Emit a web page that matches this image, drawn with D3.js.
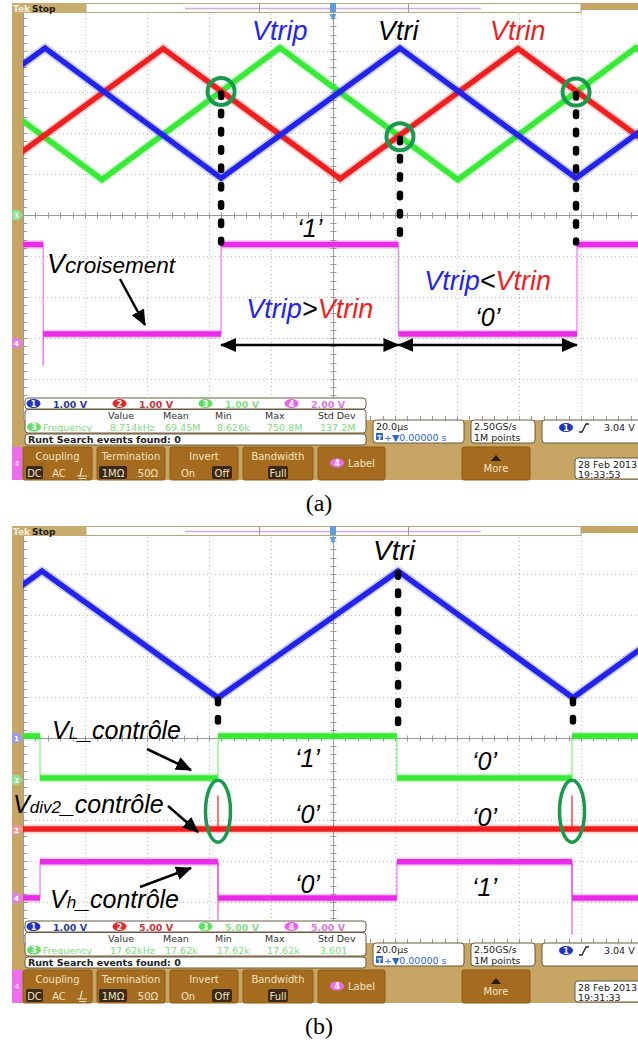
<!DOCTYPE html>
<html>
<head>
<meta charset="utf-8">
<script src="https://cdn.jsdelivr.net/npm/d3@7"></script>
<style>
  body { margin: 0; background: #fff; }
  svg { display: block; }
  .ann { font-family: "Liberation Sans", Arial, sans-serif; font-style: italic; }
  .ui { font-family: "DejaVu Sans", sans-serif; }
</style>
</head>
<body>
<svg width="638" height="1045"></svg>
<script>
// time in µs from the trigger point (20 µs/div), levels in volts

// (a) carriers
var vtripT = [-150.3, -92.9, -36.1, 21.6, 78.4, 135.8];
var vtripV = [0.90, 4.07, 0.90, 4.07, 0.90, 4.07];
var vtrinT = [-112.2, -54.8, 2.3, 59.7, 117.1];
var vtrinV = [0.88, 4.06, 0.88, 4.06, 0.88];
var vtriAT = [-131.9, -74.5, -17.1, 40.3, 97.7, 155.1];
var vtriAV = [4.08, 0.86, 4.08, 0.86, 4.08, 0.86];
// (a) Vcroisement
var croisEdges = [-93.5, -36.1, 21.1, 78.7];
var croisLevels = [4.8, 0.44, 4.8, 0.44, 4.8];
var croisSpikeT = [-93.5];
var croisSpikeV = [-1.1];
var markA = [-36.1, 21.6, 78.4];

// (b) carrier and control signals
var vtriBT = [-150.6, -93.9, -37.1, 21.0, 77.4, 134.0];
var vtriBV = [0.98, 4.07, 0.98, 4.07, 0.98, 4.07];
var ctrlEdges = [-94.5, -37.1, 20.6, 77.1];
var vlLevels = [5.35, 0.22, 5.35, 0.22, 5.35];
var vhLevels = [0.0, 4.4, 0.0, 4.4, 0.0];
var div2Level = 0.1;
var div2GlitchT = [-37.1, 77.1];
var div2GlitchV = [4.2, 4.2];
var vhSpikeV = [-2.7, -4.5];
var markB = [-37.1, 21.0, 77.4];

// readouts
var voltsA = ["1.00 V", "1.00 V", "1.00 V", "2.00 V"];
var voltsB = ["1.00 V", "5.00 V", "5.00 V", "5.00 V"];
var measHead = ["Value", "Mean", "Min", "Max", "Std Dev"];
var measA = ["8.714kHz", "69.45M", "8.626k", "750.8M", "137.2M"];
var measB = ["17.62kHz", "17.62k", "17.62k", "17.62k", "3.601"];
var dateA = ["28 Feb 2013", "19:33:53"];
var dateB = ["28 Feb 2013", "19:31:33"];

var blue = "#2323ee", red = "#f01e1e", green = "#36ea36", pink = "#ea2cea";
var ring = "#179a4c", tan = "#c6a565", btn = "#a56c20", btnTxt = "#f4e3c0";
var chanFill = ["#1f33c4", "#e22a2a", "#62dc62", "#ec62ec"];
var chanTxt = ["#2c3c9c", "#cc3333", "#86e086", "#dd77dd"];
var markFill = ["#9b9be6", "#ef9a9a", "#8fe08f", "#e57fe5"];

var svg = d3.select("svg");
var x = d3.scaleLinear().domain([-100, 100]).range([23, 643]);
var y = d3.scaleLinear().domain([-5, 5]).range([420, 10]); // divisions

var defs = svg.append("defs");
defs.append("clipPath").attr("id", "plotClip")
  .append("rect").attr("x", 23).attr("y", 13).attr("width", 615).attr("height", 407);
defs.append("marker").attr("id", "ah").attr("viewBox", "0 0 16 14")
  .attr("refX", 15).attr("refY", 7).attr("markerWidth", 16).attr("markerHeight", 14)
  .attr("markerUnits", "userSpaceOnUse").attr("orient", "auto-start-reverse")
  .append("path").attr("d", "M0,0L16,7L0,14Z").attr("fill", "#000");

function uiText(g, x0, y0, s, size, col, anchor) {
  return g.append("text").attr("class", "ui").attr("x", x0).attr("y", y0)
    .attr("font-size", size).attr("fill", col).attr("text-anchor", anchor || "start").text(s);
}

function badge(g, cx, cy, n, fill) {
  g.append("ellipse").attr("cx", cx).attr("cy", cy).attr("rx", 7).attr("ry", 4.6).attr("fill", fill);
  uiText(g, cx, cy + 3, n, 8, "#fff", "middle").attr("font-weight", "bold");
}

function box(g, x0, y0, w, h, fill) {
  return g.append("rect").attr("x", x0).attr("y", y0).attr("width", w).attr("height", h)
    .attr("rx", 3).attr("fill", fill || "#fff").attr("stroke", "#6b5a40").attr("stroke-width", 1);
}

function graticule(g) {
  g.append("rect").attr("x", 23).attr("y", 10).attr("width", 615).attr("height", 410).attr("fill", "#fff");
  var gr = g.append("g").attr("stroke", "#bcbcbc").attr("stroke-width", 1);
  gr.selectAll(null).data(d3.range(-80, 81, 20).filter(function(d) { return d; })).join("line")
    .attr("x1", function(d) { return Math.round(x(d)) + 0.5; })
    .attr("x2", function(d) { return Math.round(x(d)) + 0.5; })
    .attr("y1", 10).attr("y2", 420).attr("stroke-dasharray", "1,3");
  gr.selectAll(null).data([-4, -3, -2, -1, 1, 2, 3, 4]).join("line")
    .attr("x1", 23).attr("x2", 638)
    .attr("y1", function(d) { return Math.round(y(d)) + 0.5; })
    .attr("y2", function(d) { return Math.round(y(d)) + 0.5; })
    .attr("stroke-dasharray", "1,3");
  var cx = Math.round(x(0)) + 0.5, cy = Math.round(y(0)) + 0.5;
  var c = g.append("g").attr("stroke", "#9a9a9a").attr("stroke-width", 1);
  c.append("line").attr("x1", 23).attr("x2", 638).attr("y1", cy).attr("y2", cy);
  c.append("line").attr("x1", cx).attr("x2", cx).attr("y1", 10).attr("y2", 420);
  c.append("line").attr("x1", 23.5).attr("x2", 23.5).attr("y1", 10).attr("y2", 420);
  var tt = d3.range(-100, 100.1, 4), td = d3.range(-5, 5.01, 0.2);
  c.selectAll(null).data(tt).join("line")
    .attr("x1", function(d) { return Math.round(x(d)) + 0.5; })
    .attr("x2", function(d) { return Math.round(x(d)) + 0.5; })
    .attr("y1", cy - 3).attr("y2", cy + 3);
  c.selectAll(null).data(tt).join("line")
    .attr("x1", function(d) { return Math.round(x(d)) + 0.5; })
    .attr("x2", function(d) { return Math.round(x(d)) + 0.5; })
    .attr("y1", 416).attr("y2", 420);
  c.selectAll(null).data(td).join("line")
    .attr("y1", function(d) { return Math.round(y(d)) + 0.5; })
    .attr("y2", function(d) { return Math.round(y(d)) + 0.5; })
    .attr("x1", cx - 3).attr("x2", cx + 3);
  c.selectAll(null).data(td).join("line")
    .attr("y1", function(d) { return Math.round(y(d)) + 0.5; })
    .attr("y2", function(d) { return Math.round(y(d)) + 0.5; })
    .attr("x1", 23).attr("x2", 27);
}

// one oscilloscope screen; returns its layers
function scope(oy, P) {
  var g = svg.append("g").attr("transform", "translate(0," + oy + ")");
  var yc = function(ch, v) { return y(v / P.ch[ch].vdiv + P.ch[ch].off); };

  g.append("rect").attr("x", 12).attr("y", 3).attr("width", 626).attr("height", 477).attr("fill", tan);
  graticule(g);
  var layer = g.append("g").attr("clip-path", "url(#plotClip)");

  // channel markers on the left
  P.markers.forEach(function(m) {
    var my = yc(m, 0);
    g.append("path").attr("d", "M12," + (my - 5) + "H19L23," + my + "L19," + (my + 5) + "H12Z")
      .attr("fill", markFill[m]);
    uiText(g, 16.5, my + 3, String(m + 1), 7, "#fff", "middle").attr("font-weight", "bold");
  });

  // status bar
  g.append("rect").attr("x", 12).attr("y", 3).attr("width", 74).attr("height", 10).attr("fill", "#c8ad6e");
  uiText(g, 13, 12, "Tek", 9, "#f6efdc").attr("font-weight", "bold");
  uiText(g, 32, 12, "Stop", 9, "#1a1a1a").attr("font-weight", "bold");
  g.append("rect").attr("x", 86).attr("y", 3.5).attr("width", 495).attr("height", 9)
    .attr("fill", "#fff").attr("stroke", "#bba77c");
  g.append("line").attr("x1", 185).attr("x2", 481).attr("y1", 8.5).attr("y2", 8.5)
    .attr("stroke", "#dba9db").attr("stroke-width", 1.5);
  g.append("line").attr("x1", 259.5).attr("x2", 259.5).attr("y1", 4).attr("y2", 12).attr("stroke", "#999");
  g.append("line").attr("x1", 408.5).attr("x2", 408.5).attr("y1", 4).attr("y2", 12).attr("stroke", "#999");
  var tx = x(0);
  g.append("rect").attr("x", tx - 3).attr("y", 3).attr("width", 6).attr("height", 9).attr("fill", "#5a9fdc");
  g.append("path").attr("d", "M" + (tx - 3.5) + ",14L" + (tx + 3.5) + ",14L" + tx + ",21Z").attr("fill", "#5a9fdc");

  // channel scale readout
  var r = g.append("g");
  box(r, 25, 398, 341, 11);
  P.volts.forEach(function(v, i) {
    badge(r, 33.5 + i * 86, 403.5, String(i + 1), chanFill[i]);
    uiText(r, 53 + i * 86, 407.5, v, 9.5, chanTxt[i]).attr("font-weight", "bold");
  });
  box(r, 25, 409.5, 341, 23.5);
  var cols = [108, 163, 215, 265, 318];
  measHead.forEach(function(h, i) { uiText(r, cols[i], 419, h, 9.5, "#333"); });
  badge(r, 34, 427, "3", "#66dd66");
  uiText(r, 43, 430.5, "Frequency", 9.5, "#7fd97f");
  P.meas.forEach(function(v, i) { uiText(r, cols[i] + 2, 430.5, v, 9.5, "#7fd97f"); });
  box(r, 25, 434, 341, 11);
  uiText(r, 28, 443, "Runt Search events found: 0", 9.5, "#222").attr("font-weight", "bold");

  // timebase / acquisition / trigger
  box(r, 373, 420, 91, 23);
  uiText(r, 376, 429.5, "20.0\u00b5s", 9.5, "#222");
  r.append("rect").attr("x", 376).attr("y", 433).attr("width", 7).attr("height", 7).attr("fill", "#2e67c8");
  uiText(r, 379.5, 439.5, "T", 6.5, "#fff", "middle").attr("font-weight", "bold");
  uiText(r, 384, 440.5, "+\u25bc0.00000 s", 9.5, "#2e67c8");
  box(r, 471, 420, 64, 23);
  uiText(r, 474, 429.5, "2.50GS/s", 9.5, "#222");
  uiText(r, 474, 440.5, "1M points", 9.5, "#222");
  box(r, 542, 420, 100, 23);
  badge(r, 566, 427.5, "1", "#1f33c4");
  r.append("path").attr("d", "M579,432H582L586,424H589").attr("fill", "none").attr("stroke", "#222").attr("stroke-width", 1.3);
  uiText(r, 604, 430.5, "3.04 V", 9.5, "#222");

  // soft keys
  r.append("rect").attr("x", 12).attr("y", 447).attr("width", 10).attr("height", 33).attr("fill", "#ee6cee");
  uiText(r, 17, 466, "4", 7, "#fff", "middle");
  var keys = [[23, 69, "Coupling"], [97, 68, "Termination"], [170, 68, "Invert"], [243, 70, "Bandwidth"],
              [318, 67, ""], [462, 68, ""]];
  keys.forEach(function(k) {
    r.append("rect").attr("x", k[0]).attr("y", 447).attr("width", k[1]).attr("height", 33)
      .attr("rx", 2).attr("fill", btn).attr("stroke", "#8e5a16");
    if (k[2]) uiText(r, k[0] + k[1] / 2, 460, k[2], 10, btnTxt, "middle");
  });
  var chip = function(x0, w, s) {
    r.append("rect").attr("x", x0).attr("y", 466).attr("width", w).attr("height", 13).attr("rx", 2).attr("fill", "#3a2914");
    uiText(r, x0 + w / 2, 476.5, s, 10, btnTxt, "middle");
  };
  chip(26, 17, "DC");
  uiText(r, 59, 476.5, "AC", 10, btnTxt, "middle");
  r.append("path").attr("d", "M82,468L80,476M77,476H87M79,478.5H86M81,481H84")
    .attr("stroke", btnTxt).attr("stroke-width", 1.2).attr("fill", "none");
  chip(99, 28, "1M\u03a9");
  uiText(r, 148, 476.5, "50\u03a9", 10, btnTxt, "middle");
  uiText(r, 188, 476.5, "On", 10, btnTxt, "middle");
  chip(212, 20, "Off");
  chip(268, 20, "Full");
  badge(r, 337, 463, "4", "#f06af0");
  uiText(r, 348, 467, "Label", 10, btnTxt);
  r.append("path").attr("d", "M491,461L496,455L501,461Z").attr("fill", "#2a1a08");
  uiText(r, 496, 472, "More", 10, btnTxt, "middle");
  box(r, 575, 458, 70, 21);
  uiText(r, 578, 467.5, P.date[0], 9.5, "#222");
  uiText(r, 578, 477.5, P.date[1], 9.5, "#222");

  var ann = g.append("g");
  return { layer: layer, ann: ann, yc: yc };
}

function glowPath(layer, pts, col, lineFn) {
  layer.append("path").datum(pts).attr("d", lineFn).attr("fill", "none")
    .attr("stroke", col).attr("stroke-width", 9).attr("stroke-opacity", 0.22);
  layer.append("path").datum(pts).attr("d", lineFn).attr("fill", "none")
    .attr("stroke", col).attr("stroke-width", 5.5);
}

function triangle(S, ch, T, V, col) {
  var pts = T.map(function(t, i) { return [t, V[i]]; });
  var line = d3.line().x(function(d) { return x(d[0]); }).y(function(d) { return S.yc(ch, d[1]); });
  glowPath(S.layer, pts, col, line);
}

function pulses(S, ch, edges, levels, col) {
  var b = [-100].concat(edges, [100]);
  var line = d3.line().x(function(d) { return x(d[0]); }).y(function(d) { return S.yc(ch, d[1]); });
  levels.forEach(function(L, i) { glowPath(S.layer, [[b[i], L], [b[i + 1], L]], col, line); });
  edges.forEach(function(e, i) {
    S.layer.append("line").attr("x1", x(e)).attr("x2", x(e))
      .attr("y1", S.yc(ch, levels[i])).attr("y2", S.yc(ch, levels[i + 1]))
      .attr("stroke", col).attr("stroke-width", 1.3).attr("stroke-opacity", 0.6);
  });
}

function spike(S, ch, t, from, to, col, w) {
  S.layer.append("line").attr("x1", x(t)).attr("x2", x(t))
    .attr("y1", S.yc(ch, from)).attr("y2", S.yc(ch, to))
    .attr("stroke", col).attr("stroke-width", w || 1.3).attr("stroke-opacity", 0.75);
}

function dashed(g, px, y1, y2) {
  g.append("line").attr("x1", px).attr("x2", px).attr("y1", y1).attr("y2", y2)
    .attr("stroke", "#000").attr("stroke-width", 6.5).attr("stroke-linecap", "round")
    .attr("stroke-dasharray", "3.5,14.8");
}

function arrow(g, x1, y1, x2, y2, both) {
  var l = g.append("line").attr("x1", x1).attr("y1", y1).attr("x2", x2).attr("y2", y2)
    .attr("stroke", "#000").attr("stroke-width", 2.5).attr("marker-end", "url(#ah)");
  if (both) l.attr("marker-start", "url(#ah)");
}

function rich(g, x0, y0, parts, anchor) {
  var t = g.append("text").attr("class", "ann").attr("x", x0).attr("y", y0)
    .attr("text-anchor", anchor || "start");
  parts.forEach(function(p) { t.append("tspan").attr("fill", p[1]).attr("font-size", p[2]).text(p[0]); });
  return t;
}

// ---------------- (a) ----------------
var A = scope(0, {
  ch: [{ vdiv: 1, off: 0 }, { vdiv: 1, off: 0 }, { vdiv: 1, off: 0 }, { vdiv: 2, off: -3.12 }],
  markers: [2, 3], volts: voltsA, meas: measA, date: dateA
});
pulses(A, 3, croisEdges, croisLevels, pink);
croisSpikeT.forEach(function(t, i) { spike(A, 3, t, croisLevels[1], croisSpikeV[i], pink); });
triangle(A, 2, vtriAT, vtriAV, green);
triangle(A, 1, vtrinT, vtrinV, red);
triangle(A, 0, vtripT, vtripV, blue);

var vtriAt = d3.scaleLinear().domain(vtriAT).range(vtriAV);
var k = "#000";
markA.forEach(function(t) {
  var cy = A.yc(2, vtriAt(t));
  dashed(A.ann, x(t), cy + 2, A.yc(3, croisLevels[0]) - 2);
  A.ann.append("circle").attr("cx", x(t)).attr("cy", cy).attr("r", 13.5)
    .attr("fill", "none").attr("stroke", ring).attr("stroke-width", 4);
});
rich(A.ann, 252, 40, [["Vtrip", blue, 27]]);
rich(A.ann, 378, 40, [["Vtri", k, 27]]);
rich(A.ann, 490, 40, [["Vtrin", red, 27]]);
var midA1 = x((croisEdges[1] + croisEdges[2]) / 2), midA2 = x((croisEdges[2] + croisEdges[3]) / 2);
rich(A.ann, midA1, 237, [["\u20181\u2019", k, 25]], "middle");
rich(A.ann, 47, 273, [["V", k, 27], ["croisement", k, 22.5]]);
arrow(A.ann, 120, 279, 145, 325);
rich(A.ann, midA1, 318, [["Vtrip", blue, 27], [">", k, 27], ["Vtrin", red, 27]], "middle");
rich(A.ann, midA2, 290, [["Vtrip", blue, 27], ["<", k, 27], ["Vtrin", red, 27]], "middle");
rich(A.ann, midA2, 326, [["\u20180\u2019", k, 25]], "middle");
arrow(A.ann, x(croisEdges[1]), 345, x(croisEdges[2]), 345, true);
arrow(A.ann, x(croisEdges[2]), 345, x(croisEdges[3]), 345, true);
A.ann.append("text").attr("x", 319).attr("y", 511).attr("text-anchor", "middle")
  .attr("font-family", "'Liberation Serif', 'Times New Roman', serif").attr("font-size", 24).text("(a)");

// ---------------- (b) ----------------
var B = scope(523, {
  ch: [{ vdiv: 1, off: 0 }, { vdiv: 5, off: -2.24 }, { vdiv: 5, off: -1.02 }, { vdiv: 5, off: -3.9 }],
  markers: [0, 2, 1, 3], volts: voltsB, meas: measB, date: dateB
});
pulses(B, 2, ctrlEdges, vlLevels, green);
pulses(B, 1, [], [div2Level], red);
div2GlitchT.forEach(function(t, i) { spike(B, 1, t, div2Level, div2GlitchV[i], red, 1.6); });
pulses(B, 3, ctrlEdges, vhLevels, pink);
[1, 3].forEach(function(e, i) { spike(B, 3, ctrlEdges[e], vhLevels[e], vhSpikeV[i], pink); });
triangle(B, 0, vtriBT, vtriBV, blue);

var vtriBt = d3.scaleLinear().domain(vtriBT).range(vtriBV);
markB.forEach(function(t) {
  dashed(B.ann, x(t), B.yc(0, vtriBt(t)) + 2, B.yc(2, vlLevels[0]) - 6);
});
div2GlitchT.forEach(function(t, i) {
  var top = B.yc(1, div2GlitchV[i]), bot = B.yc(1, div2Level);
  B.ann.append("ellipse").attr("cx", x(t)).attr("cy", (top + bot) / 2 - 1).attr("rx", 12.5).attr("ry", 31)
    .attr("fill", "none").attr("stroke", ring).attr("stroke-width", 3.5);
});
rich(B.ann, 373, 37, [["Vtri", k, 28]]);
rich(B.ann, 52, 216, [["V", k, 25], ["L", k, 17], ["_contr\u00f4le", k, 25]]);
arrow(B.ann, 147, 226, 191, 247);
rich(B.ann, 13, 290, [["V", k, 25], ["div2", k, 17], ["_contr\u00f4le", k, 25]]);
arrow(B.ann, 168, 283, 198, 309);
rich(B.ann, 50, 385, [["V", k, 25], ["h", k, 17], ["_contr\u00f4le", k, 25]]);
arrow(B.ann, 140, 364, 191, 345);
var midB1 = x((ctrlEdges[1] + ctrlEdges[2]) / 2), midB2 = x((ctrlEdges[2] + ctrlEdges[3]) / 2);
var rowLabels = [["1", "0", 244], ["0", "0", 300], ["0", "1", 370]];
rowLabels.forEach(function(rw) {
  rich(B.ann, midB1, rw[2], [["\u2018" + rw[0] + "\u2019", k, 25]], "middle");
  rich(B.ann, midB2, rw[2] + 3, [["\u2018" + rw[1] + "\u2019", k, 25]], "middle");
});
B.ann.append("text").attr("x", 319).attr("y", 511).attr("text-anchor", "middle")
  .attr("font-family", "'Liberation Serif', 'Times New Roman', serif").attr("font-size", 24).text("(b)");
</script>
</body>
</html>
